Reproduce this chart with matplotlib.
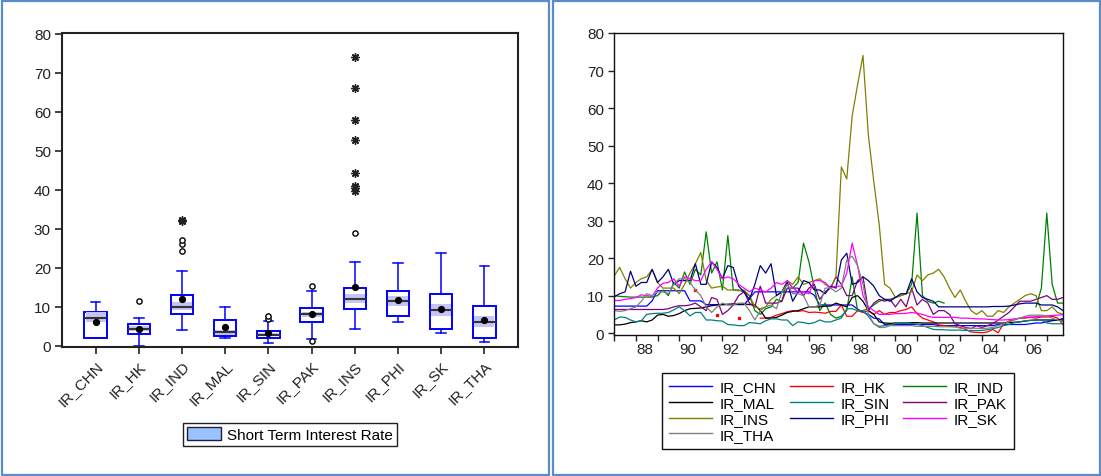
import numpy as np
import matplotlib
matplotlib.use('Agg')
import matplotlib.pyplot as plt
from matplotlib.patches import Rectangle, Patch
from matplotlib.lines import Line2D

plt.rcParams['font.family'] = ['Liberation Sans', 'DejaVu Sans']

nan = np.nan

# ---- box plot summary ----
names = ['IR_CHN', 'IR_HK', 'IR_IND', 'IR_MAL', 'IR_SIN',
         'IR_PAK', 'IR_INS', 'IR_PHI', 'IR_SK', 'IR_THA']
box_q1 = [2.1, 3.0, 8.1, 2.6, 2.0, 6.2, 9.4, 7.7, 4.4, 2.0]
box_med = [7.2, 4.4, 10.0, 3.5, 2.8, 8.2, 12.1, 11.5, 9.2, 6.1]
box_q3 = [8.8, 5.6, 13.1, 6.6, 3.9, 9.6, 14.9, 14.1, 13.3, 10.3]
box_wlo = [1.9, 0.0, 4.0, 2.1, 0.6, 1.8, 4.4, 6.2, 3.3, 0.9]
box_whi = [11.3, 7.1, 19.1, 10.0, 6.4, 14.0, 21.5, 21.3, 23.8, 20.5]
box_mean = [6.0, 4.3, 12.1, 4.8, 3.2, 8.2, 15.1, 11.7, 9.4, 6.7]
band_lo = [6.1, 3.8, 9.2, 2.9, 2.5, 7.5, 11.1, 10.3, 7.7, 4.7]
band_hi = [8.6, 5.2, 11.2, 4.0, 3.2, 8.8, 13.2, 12.8, 10.8, 7.6]
near_out = {'IR_HK': [11.5], 'IR_IND': [24.3, 26.0, 27.1], 'IR_SIN': [6.9, 7.6],
            'IR_PAK': [15.4, 1.2], 'IR_INS': [29.0]}
far_out = {'IR_IND': [31.9, 32.2],
           'IR_INS': [74.0, 66.2, 57.9, 52.7, 44.3, 41.1, 40.4, 39.7]}

# ---- quarterly series 1987Q1 - 2007Q4 ----
start_year = 1987
ir_chn = [7.2, 7.2, 7.2, 7.2, 7.2, 7.2, 7.2, 8.6, 11.3, 11.3, 11.3, 11.3,
          11.3, 11.3, 8.6, 8.6, 8.6, 7.6, 7.6, 7.6, 7.6, 7.6, 7.6, 7.6,
          7.6, 9.2, 11.0, 11.0, 11.0, 11.0, 11.0, 11.0, 11.0, 11.0, 11.0, 11.0,
          11.0, 10.1, 7.5, 7.5, 7.5, 7.5, 7.5, 7.5, 7.5, 6.4, 5.6, 5.0,
          4.0, 3.8, 2.3, 2.3, 2.3, 2.3, 2.3, 2.3, 2.3, 2.3, 2.3, 2.3,
          2.0, 2.0, 2.0, 2.0, 2.0, 2.0, 2.0, 2.0, 2.0, 2.0, 2.0, 2.3,
          2.3, 2.3, 2.3, 2.3, 2.3, 2.5, 2.7, 2.7, 3.0, 3.3, 3.5, 3.9]
ir_hk = [nan, nan, nan, nan, nan, nan, nan, nan, nan, nan, nan, nan,
         nan, nan, nan, 11.5, nan, nan, nan, 4.8, nan, nan, nan, 4.0,
         nan, nan, nan, 4.0, 4.0, 4.2, 4.8, 5.2, 5.7, 6.0, 5.8, 6.0,
         5.5, 5.6, 5.5, 5.3, 5.8, 5.8, 7.5, 4.5, 4.5, 6.0, 5.5, 6.0,
         5.0, 6.0, 5.0, 5.5, 5.5, 6.0, 6.3, 7.0, 5.2, 4.0, 3.5, 3.0,
         2.2, 2.0, 1.8, 1.7, 1.5, 1.0, 0.3, 0.2, 0.1, 0.3, 1.0, 0.1,
         2.5, 3.2, 3.6, 4.0, 4.0, 4.2, 4.0, 4.3, 4.3, 4.5, 4.0, 2.3]
ir_ind = [10.0, 9.8, 9.7, 9.6, 9.6, 9.6, 9.6, 9.6, 10.0, 11.5, 10.0, 13.5,
          12.0, 16.3, 13.0, 17.0, 15.5, 27.0, 16.0, 19.0, 11.5, 26.0, 11.5, 11.5,
          11.0, 10.0, 6.0, 5.0, 6.5, 7.0, 9.0, 8.5, 14.0, 12.0, 13.5, 24.0,
          19.0, 12.0, 6.0, 8.0, 5.0, 4.0, 4.5, 6.0, 15.0, 6.0, 6.0, 6.5,
          7.5, 8.5, 9.0, 9.0, 9.5, 10.0, 10.5, 13.0, 32.0, 10.0, 8.5, 8.0,
          8.5, 8.0, nan, nan, nan, nan, nan, nan, nan, nan, nan, nan,
          nan, nan, nan, nan, nan, nan, 7.0, 12.0, 32.0, 13.0, 8.0, 8.0]
ir_mal = [2.2, 2.2, 2.4, 2.8, 3.0, 3.3, 3.0, 3.5, 4.8, 5.0, 4.5, 4.7,
          5.2, 6.0, 6.5, 6.6, 6.7, 7.0, 7.3, 7.5, 7.6, 7.7, 7.8, 7.7,
          7.8, 7.6, 7.5, 6.0, 4.0, 4.0, 4.2, 4.8, 5.5, 5.8, 6.0, 6.5,
          7.0, 7.0, 7.0, 7.2, 7.2, 8.0, 7.5, 7.0, 9.5, 10.0, 8.5, 6.0,
          5.0, 3.0, 2.7, 2.6, 2.7, 2.7, 2.7, 2.8, 2.8, 2.7, 2.7, 2.7,
          2.7, 2.7, 2.7, 2.7, 2.7, 2.7, 2.7, 2.7, 2.7, 2.7, 2.7, 2.7,
          2.7, 2.8, 2.9, 3.0, 3.2, 3.4, 3.5, 3.5, 3.5, 3.5, 3.5, 3.5]
ir_sin = [3.5, 4.3, 4.2, 3.5, 3.0, 3.3, 5.0, 5.2, 5.3, 5.3, 5.5, 6.2,
          7.0, 6.0, 4.6, 5.5, 5.5, 3.5, 3.5, 3.3, 3.2, 2.3, 2.2, 2.0,
          2.0, 2.8, 2.7, 2.5, 3.3, 3.8, 3.8, 3.5, 3.5, 2.0, 3.0, 2.8,
          2.5, 2.8, 3.5, 3.0, 3.0, 3.5, 4.0, 6.5, 6.5, 6.0, 6.0, 4.5,
          2.5, 1.8, 2.0, 2.2, 2.5, 2.7, 2.8, 2.6, 2.4, 2.0, 1.5, 1.0,
          0.9, 0.9, 0.8, 0.8, 0.8, 0.7, 0.7, 0.7, 0.7, 0.9, 1.2, 1.5,
          2.0, 2.3, 2.8, 3.0, 3.3, 3.4, 3.5, 3.5, 2.7, 2.5, 2.5, 2.5]
ir_pak = [6.3, 6.3, 6.3, 6.3, 6.3, 6.3, 6.3, 6.3, 6.3, 6.3, 6.5, 7.0,
          7.3, 7.3, 7.5, 8.0, 7.0, 6.0, 9.5, 9.0, 5.0, 6.0, 7.5, 10.0,
          11.0, 8.0, 7.0, 12.5, 8.0, 8.0, 8.0, 8.5, 12.0, 12.0, 12.0, 10.0,
          12.0, 13.0, 9.0, 11.0, 12.0, 15.0, 13.0, 10.0, 10.0, 14.0, 15.0, 6.0,
          8.0, 9.0, 8.5, 9.0, 7.0, 9.0, 7.0, 12.0, 7.5, 9.0, 8.0, 5.0,
          6.0, 6.0, 5.0, 2.5, 2.0, 1.5, 1.2, 2.0, 1.5, 2.0, 2.5, 3.5,
          4.5, 5.5, 7.0, 8.5, 8.5, 8.5, 9.0, 9.5, 10.0, 9.0, 9.0, 9.5]
ir_ins = [15.3, 17.5, 14.5, 12.0, 13.5, 14.5, 15.0, 17.0, 13.5, 12.0, 12.0, 12.0,
          10.5, 13.0, 16.0, 18.5, 21.5, 14.0, 12.0, 12.3, 12.5, 11.5, 11.5, 11.3,
          11.5, 10.0, 7.0, 6.5, 7.0, 9.0, 10.0, 11.0, 14.0, 13.0, 15.0, 13.0,
          13.5, 14.0, 14.5, 13.0, 12.0, 15.0, 44.3, 41.1, 57.9, 66.2, 74.0, 52.7,
          40.4, 29.0, 13.0, 12.0, 9.5, 10.0, 10.5, 11.0, 15.5, 14.0, 15.5, 16.0,
          17.0, 15.0, 12.0, 9.5, 11.5, 8.5, 6.0, 5.0, 6.0, 4.5, 4.5, 6.0,
          5.5, 7.0, 8.0, 9.0, 10.0, 10.5, 10.0, 6.0, 6.0, 7.0, 5.5, 5.0]
ir_phi = [9.7, 10.5, 11.0, 16.5, 12.5, 13.5, 13.5, 17.0, 13.5, 15.0, 17.0, 13.0,
          14.0, 14.0, 14.0, 18.5, 13.0, 13.0, 19.0, 17.5, 14.5, 18.0, 17.5, 12.5,
          11.0, 9.0, 13.0, 18.0, 16.0, 18.5, 10.0, 11.0, 13.5, 8.5, 11.0, 14.0,
          13.5, 11.5, 11.5, 10.5, 12.5, 12.0, 19.5, 21.3, 13.0, 13.5, 15.0, 14.0,
          12.5, 10.0, 9.0, 8.5, 9.5, 10.5, 10.5, 14.5, 11.0, 9.5, 9.0, 8.5,
          7.0, 7.0, 7.0, 7.0, 7.0, 7.0, 7.0, 7.0, 7.0, 7.0, 7.1, 7.1,
          7.1, 7.2, 7.5, 7.8, 8.0, 8.0, 8.0, 7.5, 7.5, 7.5, 7.0, 6.0]
ir_sk = [8.7, 8.7, 9.0, 9.2, 9.5, 10.2, 10.0, 9.8, 12.0, 13.3, 13.5, 14.5,
         12.5, 15.0, 14.5, 14.0, 14.0, 17.0, 19.0, 17.0, 14.5, 15.0, 14.5, 13.0,
         12.0, 11.0, 12.0, 11.5, 11.0, 12.0, 13.5, 13.0, 14.0, 12.0, 11.0, 11.0,
         10.5, 14.0, 14.0, 13.5, 12.0, 12.5, 12.5, 16.0, 24.0, 18.0, 10.0, 7.0,
         6.0, 5.0, 5.0, 5.0, 5.2, 5.2, 5.3, 5.5, 5.3, 5.0, 4.5, 4.2,
         4.2, 4.2, 4.2, 4.2, 4.0, 4.0, 3.9, 3.8, 3.8, 3.7, 3.6, 3.5,
         3.5, 3.6, 3.8, 4.0, 4.2, 4.3, 4.4, 4.5, 4.6, 4.7, 4.8, 4.9]
ir_tha = [6.0, 5.8, 6.0, 6.5, 7.0, 8.5, 10.5, 10.0, 11.0, 11.0, 10.5, 13.0,
          14.5, 14.5, 13.5, 11.5, 10.0, 7.0, 5.5, 7.0, 8.0, 7.5, 7.5, 8.0,
          8.0, 6.0, 3.5, 6.0, 7.0, 7.5, 6.5, 11.0, 13.0, 10.5, 10.5, 10.0,
          7.0, 7.0, 7.5, 12.0, 12.0, 11.0, 12.0, 19.5, 20.5, 18.0, 13.0, 5.0,
          2.5, 1.5, 1.5, 2.0, 2.0, 2.0, 2.0, 2.0, 1.8, 1.8, 1.8, 1.8,
          1.7, 1.7, 1.7, 1.7, 1.3, 1.3, 1.3, 1.3, 1.2, 1.3, 1.5, 2.0,
          2.5, 3.0, 3.5, 4.0, 4.5, 4.8, 4.8, 4.8, 4.5, 4.0, 3.5, 3.0]

series = [ir_chn, ir_hk, ir_ind, ir_mal, ir_sin, ir_pak, ir_ins, ir_phi, ir_sk, ir_tha]
colors = ['#0000ff', '#ff0000', '#008000', '#000000', '#008080',
          '#800080', '#808000', '#000080', '#ff00ff', '#808080']

W, H = 1101, 477
fig = plt.figure(figsize=(W / 100, H / 100), dpi=100)

# panel frames
for x0, x1 in [(1.5, 548.5), (553, 1100)]:
    fig.add_artist(Rectangle((x0 / W, 1.5 / H), (x1 - x0) / W, (H - 3) / H,
                             transform=fig.transFigure, fill=False,
                             edgecolor='#5b8bc9', linewidth=1.6))

# ---------------- left: box plots ----------------
ax1 = fig.add_axes([62 / W, 1 - 348 / H, (518 - 62) / W, (348 - 34) / H])
pos = np.arange(1, len(names) + 1)
box_w = 0.52
stats = []
for i, n in enumerate(names):
    stats.append(dict(label=n, q1=box_q1[i], med=box_med[i], q3=box_q3[i],
                      whislo=box_wlo[i], whishi=box_whi[i], mean=box_mean[i],
                      fliers=[]))
ax1.bxp(stats, positions=pos, widths=box_w, capwidths=0.22, patch_artist=True,
        showmeans=True, showfliers=False,
        boxprops=dict(facecolor='white', edgecolor='#0000ff', linewidth=1.4),
        whiskerprops=dict(color='#0000ff', linewidth=1.1),
        capprops=dict(color='#0000ff', linewidth=1.1),
        medianprops=dict(color='#333333', linewidth=1.5, zorder=4),
        meanprops=dict(marker='o', markerfacecolor='black', markeredgecolor='black',
                       markersize=4.2, zorder=5))
ax1.bar(pos, np.array(band_hi) - np.array(band_lo), bottom=band_lo,
        width=box_w - 0.06, color='#c4c4f6', zorder=2.5)
for i, n in enumerate(names):
    if n in near_out:
        v = near_out[n]
        ax1.plot([pos[i]] * len(v), v, linestyle='none', marker='o', markersize=3.8,
                 markerfacecolor='white', markeredgecolor='black', markeredgewidth=1, zorder=5)
    if n in far_out:
        v = far_out[n]
        ax1.plot([pos[i]] * len(v), v, linestyle='none', marker=(8, 2, 0), markersize=6,
                 color='#222222', markeredgewidth=1.0, zorder=5)

ax1.set_xlim(0.22, 10.78)
ax1.set_ylim(-0.3, 80.2)
ax1.set_yticks(range(0, 81, 10))
ax1.set_xticks(pos)
ax1.set_xticklabels(names, rotation=45, ha='right', va='top', rotation_mode='anchor')
ax1.tick_params(axis='both', direction='out', length=5, width=1.2, labelsize=11,
                colors='#222222', pad=3)
for s in ax1.spines.values():
    s.set_linewidth(1.5)
    s.set_color('#222222')

fig.legend(handles=[Patch(facecolor='#99c2ff', edgecolor='#202040', linewidth=1,
                          label='Short Term Interest Rate')],
           loc='center', bbox_to_anchor=(290 / W, 1 - 435.5 / H), fontsize=11,
           frameon=True, fancybox=False, edgecolor='#222222', framealpha=1,
           handlelength=2.2, handleheight=0.9, handletextpad=0.4, borderpad=0.3)

# ---------------- right: time series ----------------
ax2 = fig.add_axes([614.3 / W, 1 - 336 / H, (1063 - 614.3) / W, (336 - 34) / H])
n_obs = len(ir_chn)
t = start_year + np.arange(n_obs) / 4.0
handles = []
for n, y, c in zip(names, series, colors):
    y = np.asarray(y, dtype=float)
    ax2.plot(t, y, color=c, linewidth=0.9)
    # single observations surrounded by gaps
    prev_nan = np.r_[True, np.isnan(y[:-1])]
    next_nan = np.r_[np.isnan(y[1:]), True]
    lone = ~np.isnan(y) & prev_nan & next_nan
    if lone.any():
        ax2.plot(t[lone], y[lone], linestyle='none', marker='s', markersize=2,
                 color=c)
    handles.append(Line2D([], [], color=c, linewidth=1, label=n))

ax2.set_xlim(start_year, start_year + n_obs / 4.0 - 0.25)
ax2.set_ylim(-0.5, 80)
ax2.set_yticks(range(0, 81, 10))
years = np.arange(start_year, 2008)
ax2.set_xticks(years)
ax2.set_xticklabels([''] * len(years))
lab_years = np.arange(1988, 2007, 2)
ax2.set_xticks(lab_years + 0.4, minor=True)
ax2.set_xticklabels(['%02d' % (y % 100) for y in lab_years], minor=True)
ax2.tick_params(axis='both', which='major', direction='out', length=4, width=1,
                labelsize=11, colors='#222222')
ax2.tick_params(axis='x', which='minor', length=0, labelsize=11, colors='#222222', pad=5)
for s in ax2.spines.values():
    s.set_linewidth(1)
    s.set_color('#111111')

# legend filled row by row (matplotlib fills columns)
ncol = 3
idx = list(range(len(handles)))
order = [j for c in range(ncol) for j in idx[c::ncol]]
fig.legend(handles=[handles[j] for j in order], ncol=ncol, loc='center',
           bbox_to_anchor=(838 / W, 1 - 412 / H), fontsize=11,
           frameon=True, fancybox=False, edgecolor='#111111', framealpha=1,
           handlelength=2.8, handletextpad=0.5, columnspacing=0.9,
           labelspacing=0.12, borderpad=0.45)

fig.savefig('out.png', dpi=100)
